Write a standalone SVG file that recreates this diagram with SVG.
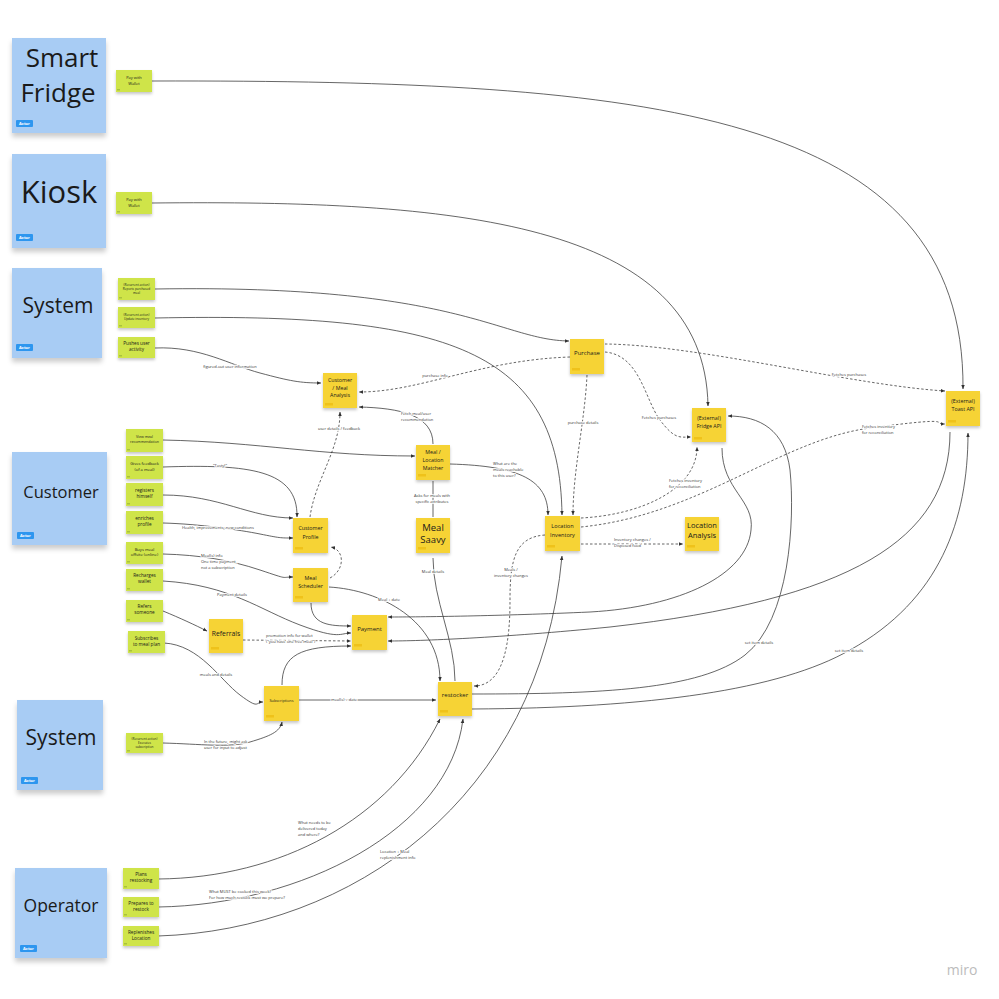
<svg xmlns="http://www.w3.org/2000/svg" width="999" height="999" viewBox="0 0 999 999">
<defs>
<style>
text{font-family:"Open Sans","Noto Sans","Liberation Sans",sans-serif;fill:#1a1a1a;text-anchor:middle}
.actor{fill:#a8ccf4}
.yel{fill:#f6d335}
.grn{fill:#cfe44a}
.ytag{fill:#efc21a}
.gtag{fill:#a9c23c}
.atag{fill:#2d96ef}
.atxt{fill:#fff;font-size:4px;font-weight:bold}
.c{fill:none;stroke:#333;stroke-width:0.75}
.d{fill:none;stroke:#333;stroke-width:0.75;stroke-dasharray:2.5 2}
.l{font-size:4px;fill:#333;stroke:#fff;stroke-width:1.6;paint-order:stroke;stroke-linejoin:round}
.ll{text-anchor:start}
.g{font-size:4.7px}
.gs{font-size:3.1px}
.y{font-size:5.3px}
</style>
<filter id="sh" x="-20%" y="-20%" width="140%" height="160%"><feDropShadow dx="0" dy="2" stdDeviation="1.4" flood-color="#000" flood-opacity="0.22"/></filter>
<filter id="shb" x="-20%" y="-20%" width="140%" height="140%"><feDropShadow dx="0" dy="4" stdDeviation="2.5" flood-color="#000" flood-opacity="0.2"/></filter>
<marker id="a" viewBox="0 0 8 8" refX="7.5" refY="4" markerWidth="4.5" markerHeight="4.5" orient="auto" markerUnits="userSpaceOnUse"><path d="M0,0.8 L8,4 L0,7.2 z" fill="#333"/></marker>
</defs>
<rect width="999" height="999" fill="#fff"/>

<g id="connectors">
<path class="c" d="M152,81 C650,80 965,110 963,389" marker-end="url(#a)"/>
<path class="c" d="M152,203 C450,200 705,220 708,406" marker-end="url(#a)"/>
<path class="c" d="M155,289 C460,284 500,340 569,341" marker-end="url(#a)"/>
<path class="c" d="M155,318 C450,312 560,350 562,515" marker-end="url(#a)"/>
<path class="c" d="M155,348 C200,346 230,365 260,373 S300,383 321,383" marker-end="url(#a)"/>
<path class="d" d="M570,357 C480,360 420,392 359,392" marker-end="url(#a)"/>
<path class="c" d="M433,444 C433,415 400,408 359,407" marker-end="url(#a)"/>
<path class="d" d="M310,517 C315,480 340,450 340,412" marker-end="url(#a)"/>
<path class="c" d="M163,440 C260,442 320,456 415,456" marker-end="url(#a)"/>
<path class="c" d="M163,467 C250,464 298,470 297,517" marker-end="url(#a)"/>
<path class="c" d="M163,495 C220,495 250,518 293,518" marker-end="url(#a)"/>
<path class="c" d="M163,523 C200,524 240,530 260,534 S280,538 293,538" marker-end="url(#a)"/>
<path class="c" d="M163,554 C200,555 230,560 260,570 S280,577 293,577" marker-end="url(#a)"/>
<path class="c" d="M163,581 C230,585 260,610 300,625 S340,633 351,633" marker-end="url(#a)"/>
<path class="c" d="M311,603 C311,625 330,626 351,626" marker-end="url(#a)"/>
<path class="d" d="M243,640 L351,641" marker-end="url(#a)"/>
<path class="c" d="M282,685 C282,655 300,646 351,646" marker-end="url(#a)"/>
<path class="c" d="M163,611 C180,618 195,625 207,631" marker-end="url(#a)"/>
<path class="c" d="M164,643 C200,645 220,680 240,695 S255,702 263,702" marker-end="url(#a)"/>
<path class="c" d="M163,743 C200,744 230,748 250,742 S280,732 282,722" marker-end="url(#a)"/>
<path class="c" d="M299,700 L436,700" marker-end="url(#a)"/>
<path class="c" d="M329,587 C380,590 440,620 440,681" marker-end="url(#a)"/>
<path class="c" d="M433,558 C433,600 455,640 455,681"/>
<path class="d" d="M330,578 C345,570 345,550 331,547" marker-end="url(#a)"/>
<path class="c" d="M433,481 L433,517"/>
<path class="c" d="M450,464 C520,466 548,480 548,515" marker-end="url(#a)"/>
<path class="d" d="M587,375 C585,420 573,470 573,515" marker-end="url(#a)"/>
<path class="d" d="M605,352 C640,355 645,400 660,420 S680,437 691,437" marker-end="url(#a)"/>
<path class="d" d="M605,344 C700,345 850,385 945,391" marker-end="url(#a)"/>
<path class="d" d="M581,518 C640,515 697,490 697,447" marker-end="url(#a)"/>
<path class="d" d="M581,527 C700,515 780,440 870,428 S930,424 945,424" marker-end="url(#a)"/>
<path class="d" d="M581,544 L683,544" marker-end="url(#a)"/>
<path class="d" d="M545,535 C515,537 510,560 510,600 S505,686 474,686" marker-end="url(#a)"/>
<path class="c" d="M722,448 C722,490 755,500 751,530 C747,575 680,607 590,612 C500,616 420,617 388,617" marker-end="url(#a)"/>
<path class="c" d="M950,432 C950,540 850,600 610,627 C500,638 420,641 388,641" marker-end="url(#a)"/>
<path class="c" d="M472,694 C600,694 700,690 745,655 C790,620 795,520 790,470 C785,430 760,416 728,416" marker-end="url(#a)"/>
<path class="c" d="M472,709 C650,708 780,690 850,650 C940,600 968,520 968,433" marker-end="url(#a)"/>
<path class="c" d="M158,879 C280,878 390,820 440,719" marker-end="url(#a)"/>
<path class="c" d="M158,907 C300,905 450,830 463,719" marker-end="url(#a)"/>
<path class="c" d="M158,936 C350,930 540,800 562,556" marker-end="url(#a)"/>
</g>

<g id="labels">
<text class="l" x="230" y="368">figured-out user information</text>
<text class="l" x="435" y="377">purchase info</text>
<text class="l ll" x="401" y="415">Fetch meal/user</text>
<text class="l ll" x="401" y="421">recommendation</text>
<text class="l" x="339" y="430">user details / feedback</text>
<text class="l" x="220" y="467">"Tasty!"</text>
<text class="l" x="218" y="529">Health, improvements, new conditions</text>
<text class="l ll" x="201" y="557">Meal(s) info</text>
<text class="l ll" x="201" y="563">One time payment,</text>
<text class="l ll" x="201" y="569">not a subscription</text>
<text class="l" x="232" y="596">Payment details</text>
<text class="l ll" x="266" y="637">promotion info for wallet</text>
<text class="l ll" x="266" y="643">("you have one free meal")</text>
<text class="l" x="216" y="676">meals and details</text>
<text class="l ll" x="204" y="743">In the future, might ask</text>
<text class="l ll" x="204" y="749">user for input to adjust</text>
<text class="l" x="344" y="701">meal(s) + date</text>
<text class="l" x="389" y="601">Meal + date</text>
<text class="l" x="433" y="573">Meal details</text>
<text class="l" x="432" y="497">Asks for meals with</text>
<text class="l" x="432" y="503">specific attributes</text>
<text class="l ll" x="493" y="465">What are the</text>
<text class="l ll" x="493" y="471">meals reachable</text>
<text class="l ll" x="493" y="477">to this user?</text>
<text class="l" x="583" y="424">purchase details</text>
<text class="l" x="659" y="419">Fetches purchases</text>
<text class="l" x="849" y="376">Fetches purchases</text>
<text class="l ll" x="669" y="482">Fetches inventory</text>
<text class="l ll" x="669" y="488">for reconciliation</text>
<text class="l ll" x="862" y="428">Fetches inventory</text>
<text class="l ll" x="862" y="434">for reconciliation</text>
<text class="l ll" x="614" y="541">Inventory changes /</text>
<text class="l ll" x="614" y="547">Disposed food</text>
<text class="l" x="511" y="571">Meals /</text>
<text class="l" x="511" y="577">inventory changes</text>
<text class="l" x="759" y="644">set item details</text>
<text class="l" x="849" y="652">set item details</text>
<text class="l ll" x="298" y="824">What needs to be</text>
<text class="l ll" x="298" y="830">delivered today</text>
<text class="l ll" x="298" y="836">and where?</text>
<text class="l ll" x="209" y="893">What MUST be cooked this week?</text>
<text class="l ll" x="209" y="899">For how much restock must we prepare?</text>
<text class="l ll" x="380" y="853">Location + Meal</text>
<text class="l ll" x="380" y="859">replenishment info</text>
</g>

<!-- Actors -->
<g id="actor-smart-fridge"><rect class="actor" x="12" y="38" width="94" height="95" filter="url(#shb)"/><text x="62" y="67" font-size="26">Smart</text><text x="58" y="102" font-size="26">Fridge</text><rect class="atag" x="16" y="120" width="17" height="7" rx="1"/><text class="atxt" x="24.5" y="125">Actor</text></g>
<g id="actor-kiosk"><rect class="actor" x="12" y="154" width="94" height="94" filter="url(#shb)"/><text x="59" y="203" font-size="31">Kiosk</text><rect class="atag" x="16" y="234" width="17" height="7" rx="1"/><text class="atxt" x="24.5" y="239">Actor</text></g>
<g id="actor-system-1"><rect class="actor" x="12" y="268" width="90" height="90" filter="url(#shb)"/><text x="58" y="313" font-size="21">System</text><rect class="atag" x="16" y="344" width="17" height="7" rx="1"/><text class="atxt" x="24.5" y="349">Actor</text></g>
<g id="actor-customer"><rect class="actor" x="12" y="452" width="95" height="93" filter="url(#shb)"/><text x="61" y="498" font-size="16.5">Customer</text><rect class="atag" x="17" y="532" width="17" height="7" rx="1"/><text class="atxt" x="25.5" y="537">Actor</text></g>
<g id="actor-system-2"><rect class="actor" x="17" y="700" width="86" height="90" filter="url(#shb)"/><text x="61" y="745" font-size="21">System</text><rect class="atag" x="21" y="777" width="17" height="7" rx="1"/><text class="atxt" x="29.5" y="782">Actor</text></g>
<g id="actor-operator"><rect class="actor" x="15" y="868" width="92" height="90" filter="url(#shb)"/><text x="61" y="912" font-size="17.5">Operator</text><rect class="atag" x="20" y="945" width="17" height="7" rx="1"/><text class="atxt" x="28.5" y="950">Actor</text></g>

<!-- Green notes -->
<g id="pay-wallet-1"><rect class="grn" x="116" y="70" width="36" height="22" filter="url(#sh)"/><rect class="gtag" x="117" y="89" width="3" height="1.5"/><text class="g" font-size="4" x="134" y="79" style="font-size:4px">Pay with</text><text x="134" y="84.5" style="font-size:4px">Wallet</text></g>
<g id="pay-wallet-2"><rect class="grn" x="116" y="192" width="36" height="22" filter="url(#sh)"/><rect class="gtag" x="117" y="211" width="3" height="1.5"/><text x="134" y="201" style="font-size:4px">Pay with</text><text x="134" y="206.5" style="font-size:4px">Wallet</text></g>
<g id="reports-purchased"><rect class="grn" x="118" y="278" width="37" height="22" filter="url(#sh)"/><rect class="gtag" x="119" y="297" width="3" height="1.5"/><text class="gs" x="136.5" y="286">(Recurrent action)</text><text class="gs" x="136.5" y="290">Reports purchased</text><text class="gs" x="136.5" y="294">meal</text></g>
<g id="update-inventory"><rect class="grn" x="118" y="307" width="37" height="21" filter="url(#sh)"/><rect class="gtag" x="119" y="325" width="3" height="1.5"/><text class="gs" x="136.5" y="316">(Recurrent action)</text><text class="gs" x="136.5" y="320">Update inventory</text></g>
<g id="pushes-activity"><rect class="grn" x="118" y="337" width="37" height="21" filter="url(#sh)"/><rect class="gtag" x="119" y="355" width="3" height="1.5"/><text class="g" x="136.5" y="345">Pushes user</text><text class="g" x="136.5" y="351">activity</text></g>
<g id="view-meal"><rect class="grn" x="126" y="429" width="37" height="23" filter="url(#sh)"/><rect class="gtag" x="127" y="449" width="3" height="1.5"/><text x="144.5" y="438" style="font-size:3.6px">View meal</text><text x="144.5" y="442.5" style="font-size:3.6px">recommendation</text></g>
<g id="gives-feedback"><rect class="grn" x="126" y="456" width="37" height="23" filter="url(#sh)"/><rect class="gtag" x="127" y="476" width="3" height="1.5"/><text x="144.5" y="465" style="font-size:4.1px">Gives feedback</text><text x="144.5" y="470.5" style="font-size:4.1px">(of a meal)</text></g>
<g id="registers"><rect class="grn" x="126" y="483" width="37" height="23" filter="url(#sh)"/><rect class="gtag" x="127" y="503" width="3" height="1.5"/><text class="g" x="144.5" y="492">registers</text><text class="g" x="144.5" y="498">himself</text></g>
<g id="enriches"><rect class="grn" x="126" y="511" width="37" height="23" filter="url(#sh)"/><rect class="gtag" x="127" y="531" width="3" height="1.5"/><text class="g" x="144.5" y="519.5">enriches</text><text class="g" x="144.5" y="525.5">profile</text></g>
<g id="buys-meal"><rect class="grn" x="126" y="542" width="37" height="22" filter="url(#sh)"/><rect class="gtag" x="127" y="561" width="3" height="1.5"/><text x="144.5" y="550.5" style="font-size:4.1px">Buys meal</text><text x="144.5" y="555.5" style="font-size:4.1px">offsite (online)</text></g>
<g id="recharges"><rect class="grn" x="126" y="569" width="37" height="22" filter="url(#sh)"/><rect class="gtag" x="127" y="588" width="3" height="1.5"/><text class="g" x="144.5" y="577">Recharges</text><text class="g" x="144.5" y="583">wallet</text></g>
<g id="refers"><rect class="grn" x="126" y="600" width="37" height="22" filter="url(#sh)"/><rect class="gtag" x="127" y="619" width="3" height="1.5"/><text class="g" x="144.5" y="608">Refers</text><text class="g" x="144.5" y="614">someone</text></g>
<g id="subscribes"><rect class="grn" x="128" y="631" width="37" height="22" filter="url(#sh)"/><rect class="gtag" x="129" y="650" width="3" height="1.5"/><text class="g" x="146.5" y="640">Subscribes</text><text class="g" x="146.5" y="646">to meal plan</text></g>
<g id="executes-subscription"><rect class="grn" x="126" y="733" width="37" height="20" filter="url(#sh)"/><rect class="gtag" x="127" y="750" width="3" height="1.5"/><text class="gs" x="144.5" y="740">(Recurrent action)</text><text class="gs" x="144.5" y="744">Executes</text><text class="gs" x="144.5" y="748">subscription</text></g>
<g id="plans-restocking"><rect class="grn" x="123" y="868" width="36" height="21" filter="url(#sh)"/><rect class="gtag" x="124" y="886" width="3" height="1.5"/><text class="g" x="141" y="876">Plans</text><text class="g" x="141" y="882">restocking</text></g>
<g id="prepares-restock"><rect class="grn" x="123" y="897" width="36" height="20" filter="url(#sh)"/><rect class="gtag" x="124" y="914" width="3" height="1.5"/><text class="g" x="141" y="905">Prepares to</text><text class="g" x="141" y="911">restock</text></g>
<g id="replenishes"><rect class="grn" x="123" y="926" width="36" height="20" filter="url(#sh)"/><rect class="gtag" x="124" y="943" width="3" height="1.5"/><text class="g" x="141" y="934">Replenishes</text><text class="g" x="141" y="940">Location</text></g>

<!-- Yellow notes -->
<g id="customer-meal-analysis"><rect class="yel" x="323" y="373" width="34" height="35" filter="url(#sh)"/><rect class="ytag" x="325" y="403" width="8" height="2.5"/><text class="y" x="340" y="382">Customer</text><text class="y" x="340" y="389.5">/ Meal</text><text class="y" x="340" y="397">Analysis</text></g>
<g id="purchase"><rect class="yel" x="570" y="339" width="34" height="35" filter="url(#sh)"/><rect class="ytag" x="572" y="368" width="8" height="2.5"/><text x="587" y="355" style="font-size:6px">Purchase</text></g>
<g id="fridge-api"><rect class="yel" x="692" y="408" width="34" height="34" filter="url(#sh)"/><rect class="ytag" x="694" y="437" width="8" height="2.5"/><text class="y" x="709" y="420">(External)</text><text class="y" x="709" y="428">Fridge API</text></g>
<g id="toast-api"><rect class="yel" x="946" y="391" width="34" height="35" filter="url(#sh)"/><rect class="ytag" x="948" y="420" width="8" height="2.5"/><text class="y" x="963" y="403">(External)</text><text class="y" x="963" y="411">Toast API</text></g>
<g id="meal-location-matcher"><rect class="yel" x="416" y="445" width="34" height="35" filter="url(#sh)"/><rect class="ytag" x="418" y="474" width="8" height="2.5"/><text class="y" x="433" y="454">Meal /</text><text class="y" x="433" y="462">Location</text><text class="y" x="433" y="470">Matcher</text></g>
<g id="meal-saavy"><rect class="yel" x="416" y="518" width="34" height="35" filter="url(#sh)"/><rect class="ytag" x="418" y="547" width="8" height="2.5"/><text x="433" y="530.5" style="font-size:9.5px">Meal</text><text x="433" y="543" style="font-size:9.5px">Saavy</text></g>
<g id="location-inventory"><rect class="yel" x="545" y="516" width="35" height="35" filter="url(#sh)"/><rect class="ytag" x="547" y="545" width="8" height="2.5"/><text x="562.5" y="528" style="font-size:5.6px">Location</text><text x="562.5" y="536.5" style="font-size:5.6px">Inventory</text></g>
<g id="location-analysis"><rect class="yel" x="685" y="517" width="34" height="34" filter="url(#sh)"/><rect class="ytag" x="687" y="545" width="8" height="2.5"/><text x="702" y="528" style="font-size:7.5px">Location</text><text x="702" y="538" style="font-size:7.5px">Analysis</text></g>
<g id="customer-profile"><rect class="yel" x="293" y="518" width="35" height="35" filter="url(#sh)"/><rect class="ytag" x="295" y="547" width="8" height="2.5"/><text class="y" x="310.5" y="530">Customer</text><text class="y" x="310.5" y="539">Profile</text></g>
<g id="meal-scheduler"><rect class="yel" x="293" y="568" width="35" height="34" filter="url(#sh)"/><rect class="ytag" x="295" y="596" width="8" height="2.5"/><text class="y" x="310.5" y="580">Meal</text><text class="y" x="310.5" y="588">Scheduler</text></g>
<g id="payment"><rect class="yel" x="352" y="615" width="35" height="35" filter="url(#sh)"/><rect class="ytag" x="354" y="644" width="8" height="2.5"/><text x="369.5" y="631" style="font-size:6px">Payment</text></g>
<g id="referrals"><rect class="yel" x="209" y="619" width="34" height="34" filter="url(#sh)"/><rect class="ytag" x="211" y="647" width="8" height="2.5"/><text x="226" y="636" style="font-size:6.8px">Referrals</text></g>
<g id="subscriptions"><rect class="yel" x="264" y="686" width="35" height="35" filter="url(#sh)"/><rect class="ytag" x="266" y="715" width="8" height="2.5"/><text x="281.5" y="701.5" style="font-size:3.8px">Subscriptions</text></g>
<g id="restocker"><rect class="yel" x="438" y="682" width="34" height="34" filter="url(#sh)"/><rect class="ytag" x="440" y="710" width="8" height="2.5"/><text x="455" y="697" style="font-size:6px">restocker</text></g>

<text x="962" y="975" style="font-size:14px;fill:#bcbcbc">miro</text>
</svg>
